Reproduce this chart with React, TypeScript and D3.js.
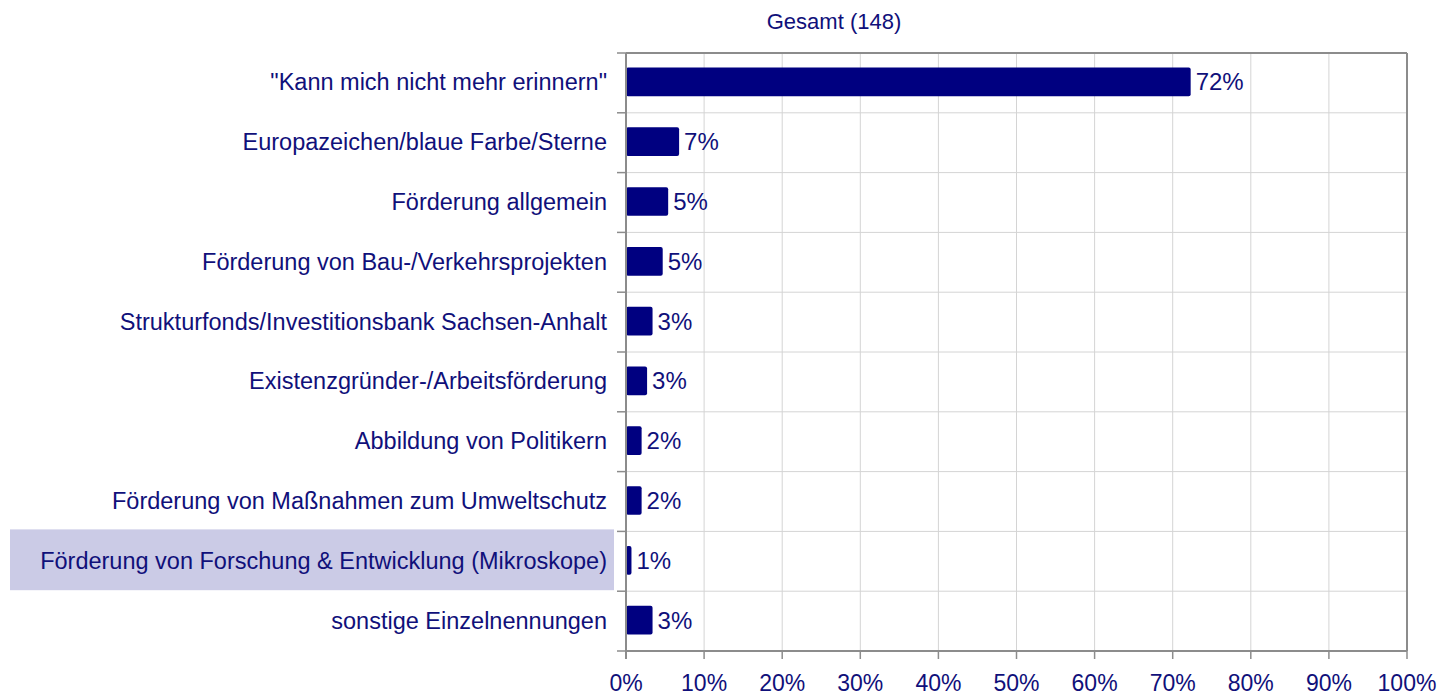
import React from "react";
import * as d3 from "d3";

const categories = [
  "\"Kann mich nicht mehr erinnern\"",
  "Europazeichen/blaue Farbe/Sterne",
  "Förderung allgemein",
  "Förderung von Bau-/Verkehrsprojekten",
  "Strukturfonds/Investitionsbank Sachsen-Anhalt",
  "Existenzgründer-/Arbeitsförderung",
  "Abbildung von Politikern",
  "Förderung von Maßnahmen zum Umweltschutz",
  "Förderung von Forschung & Entwicklung (Mikroskope)",
  "sonstige Einzelnennungen",
];
const values = [72.3, 6.8, 5.4, 4.7, 3.4, 2.7, 2.0, 2.0, 0.7, 3.4];
const valueLabels = ["72%", "7%", "5%", "5%", "3%", "3%", "2%", "2%", "1%", "3%"];
const highlighted = "Förderung von Forschung & Entwicklung (Mikroskope)";
const title = "Gesamt (148)";
const xTicks = [0, 10, 20, 30, 40, 50, 60, 70, 80, 90, 100];

const W = 1443;
const H = 697;
const left = 626;
const right = 1407;
const top = 53;
const bottom = 651;
const navy = "#000080";
const textColor = "#10107a";
const font = "'Liberation Sans', Arial, sans-serif";

export default function App() {
  const x = d3.scaleLinear().domain([0, 100]).range([left, right]);
  const y = d3.scaleBand().domain(categories).range([top, bottom]).paddingInner(0).paddingOuter(0);
  const bw = y.bandwidth();
  const barH = bw * 0.48;

  return (
    <svg width={W} height={H} style={{ position: "absolute", left: 0, top: 0, fontFamily: font }}>
      <rect width={W} height={H} fill="#fff" />
      {categories.map((c) =>
        c === highlighted ? (
          <rect key={"hl" + c} x={10} y={(y(c) as number) - 2} width={604} height={bw + 1} fill="#cbcbe6" />
        ) : null
      )}
      {xTicks.slice(1, -1).map((t) => (
        <line key={"vg" + t} x1={x(t)} x2={x(t)} y1={top} y2={bottom} stroke="#d4d4d4" strokeWidth={1} />
      ))}
      {categories.slice(1).map((c) => (
        <line key={"hg" + c} x1={left} x2={right} y1={y(c)} y2={y(c)} stroke="#d4d4d4" strokeWidth={1} />
      ))}
      <line x1={left} x2={right} y1={top} y2={top} stroke="#8c8c8c" strokeWidth={2} />
      <line x1={right} x2={right} y1={top} y2={bottom} stroke="#8c8c8c" strokeWidth={2} />
      {categories.map((c, i) => {
        const cy = (y(c) as number) + bw / 2;
        return (
          <g key={"b" + c}>
            <rect
              x={x(0)}
              y={cy - barH / 2 - 1}
              width={x(values[i]) - x(0)}
              height={barH}
              rx={2}
              fill={navy}
            />
            <text x={x(values[i]) + 5} y={cy + 7.5} fontSize={24} fill={textColor}>
              {valueLabels[i]}
            </text>
            <text x={607} y={cy + 7.5} fontSize={23.5} textAnchor="end" fill={textColor}>
              {c}
            </text>
          </g>
        );
      })}
      <line x1={left} x2={left} y1={top} y2={bottom + 8} stroke="#8c8c8c" strokeWidth={2} />
      {categories.map((c) => (
        <line key={"yt" + c} x1={left - 9} x2={left} y1={y(c)} y2={y(c)} stroke="#8c8c8c" strokeWidth={1.5} />
      ))}
      <line x1={left - 9} x2={left} y1={bottom} y2={bottom} stroke="#8c8c8c" strokeWidth={1.5} />
      <line x1={left} x2={right} y1={bottom} y2={bottom} stroke="#8c8c8c" strokeWidth={2} />
      {xTicks.map((t) => (
        <g key={"xt" + t}>
          <line x1={x(t)} x2={x(t)} y1={bottom} y2={bottom + 8} stroke="#8c8c8c" strokeWidth={1.5} />
          <text x={x(t)} y={691} textAnchor="middle" fontSize={23} fill={textColor}>
            {t + "%"}
          </text>
        </g>
      ))}
      <text x={834} y={29} textAnchor="middle" fontSize={22} fill={textColor}>
        {title}
      </text>
    </svg>
  );
}
